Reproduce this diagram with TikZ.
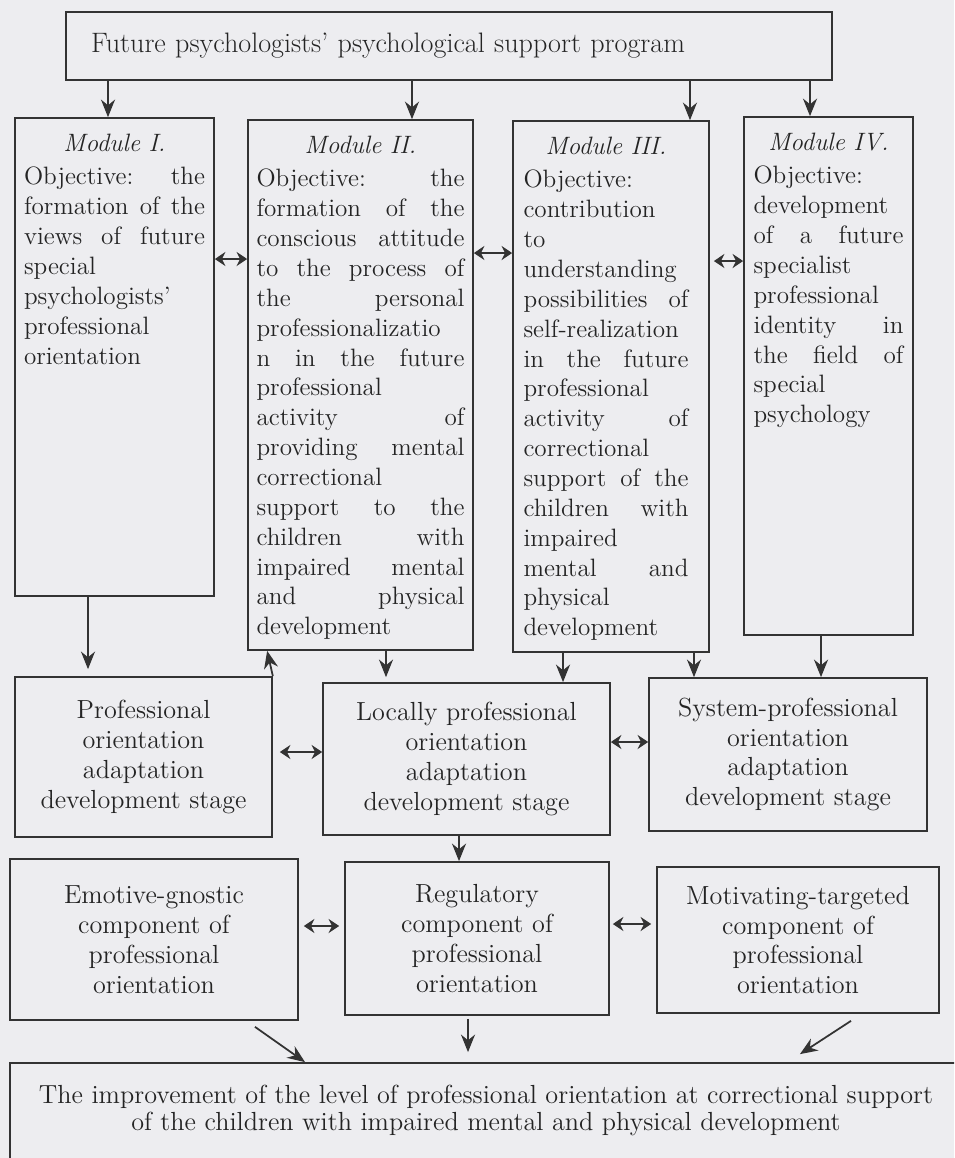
\documentclass[tikz,border=0pt]{standalone}
\usetikzlibrary{positioning,arrows.meta}
\definecolor{paper}{HTML}{EDEDF0}
\definecolor{ink}{HTML}{333333}
\definecolor{inktext}{HTML}{242424}
\tikzset{
  box/.style={draw=ink, line width=1pt, inner sep=0pt},
  txt/.style={text=inktext, font=\fontsize{14.3}{17}\selectfont, inner sep=0pt, align=left},
  bigtxt/.style={txt, font=\fontsize{14.9}{17}\selectfont},
  arr/.style={draw=ink, line width=1pt, -{Stealth[length=10pt,width=8pt]}},
  dbl/.style={draw=ink, line width=1.5pt, {Stealth[length=6pt,width=8pt]}-{Stealth[length=6pt,width=8pt]}}
}
\begin{document}
\begin{tikzpicture}[x=0.02cm, y=-0.02cm]
  \useasboundingbox (0,0) rectangle (954,1158);
  \clip (0,0) rectangle (954,1158);
  \fill[paper] (0,0) rectangle (954,1158);

  % program
  \node[box, text=inktext, font=\fontsize{16}{18}\selectfont, align=left, minimum width=15.32cm, minimum height=1.36cm, text width=14.32cm, inner xsep=0.5cm] (prog) at (449,46)
    {Future psychologists' psychological support program};

  % modules
  \node[box, minimum width=3.98cm, minimum height=9.56cm] (m1) at (114.5,357) {};
  \node[box, minimum width=4.5cm, minimum height=10.6cm] (m2) at (360.5,385) {};
  \node[box, minimum width=3.92cm, minimum height=10.62cm] (m3) at (611,386.5) {};
  \node[box, minimum width=3.38cm, minimum height=10.36cm] (m4) at (828.5,376) {};

  \node[txt, text width=3.62cm, below=0.33cm of m1.north] (t1)
    {\hfill\textit{Module I.}\hfill\null\\[2pt]
     Objective:\hfill the\\
     formation\hfill of\hfill the\\
     views\hfill of\hfill future\\
     special\\
     psychologists'\\
     professional\\
     orientation};
  \node[txt, text width=4.16cm, below=0.33cm of m2.north] (t2)
    {\hfill\textit{Module II.}\hfill\null\\[2pt]
     Objective:\hfill the\\
     formation\hfill of\hfill the\\
     conscious\hfill attitude\\
     to\hfill the\hfill process\hfill of\\
     the\hfill personal\\
     professionalizatio\\
     n\hfill in\hfill the\hfill future\\
     professional\\
     activity\hfill of\\
     providing\hfill mental\\
     correctional\\
     support\hfill to\hfill the\\
     children\hfill with\\
     impaired\hfill mental\\
     and\hfill physical\\
     development};
  \node[txt, text width=3.3cm, below=0.33cm of m3.north, xshift=-0.1cm] (t3)
    {\hfill\textit{Module III.}\hfill\null\\[2pt]
     Objective:\\
     contribution\\
     to\\
     understanding\\
     possibilities\hfill of\\
     self-realization\\
     in\hfill the\hfill future\\
     professional\\
     activity\hfill of\\
     correctional\\
     support\hfill of\hfill the\\
     children\hfill with\\
     impaired\\
     mental\hfill and\\
     physical\\
     development};
  \node[txt, text width=3.0cm, below=0.33cm of m4.north] (t4)
    {\hfill\textit{Module IV.}\hfill\null\\[2pt]
     Objective:\\
     development\\
     of\hfill a\hfill future\\
     specialist\\
     professional\\
     identity\hfill in\\
     the\hfill field\hfill of\\
     special\\
     psychology};

  % stages
  \node[box, bigtxt, align=center, minimum width=5.14cm, minimum height=3.2cm] (s1) at (143.5,757)
    {Professional\\ orientation\\ adaptation\\ development stage};
  \node[box, bigtxt, align=center, minimum width=5.74cm, minimum height=3.04cm] (s2) at (466.5,759)
    {Locally professional\\ orientation\\ adaptation\\ development stage};
  \node[box, bigtxt, align=center, minimum width=5.56cm, minimum height=3.06cm] (s3) at (788,754.5)
    {System-professional\\ orientation\\ adaptation\\ development stage};

  % components
  \node[box, bigtxt, align=center, minimum width=5.76cm, minimum height=3.22cm] (c1) at (154,939.5)
    {Emotive-gnostic\\ component of\\ professional\\ orientation};
  \node[box, bigtxt, align=center, minimum width=5.28cm, minimum height=3.06cm] (c2) at (477,938.5)
    {Regulatory\\ component of\\ professional\\ orientation};
  \node[box, bigtxt, align=center, minimum width=5.64cm, minimum height=2.92cm] (c3) at (798,940)
    {Motivating-targeted\\ component of\\ professional\\ orientation};

  % result
  \node[box, minimum width=19.3cm, minimum height=2.24cm] (res) at (492.5,1119) {};
  \node[txt, align=center, font=\fontsize{14.9}{15.5}\selectfont, below=0.45cm of res.north, xshift=-0.13cm] (tr)
    {The improvement of the level of professional orientation at correctional support\\
     of the children with impaired mental and physical development};

  % arrows from the program
  \coordinate (a1) at ([xshift=-0.13cm]m1.north);
  \coordinate (a2) at ([xshift=1.03cm]m2.north);
  \coordinate (a3) at ([xshift=1.58cm]m3.north);
  \coordinate (a4) at ([xshift=-0.37cm]m4.north);
  \foreach \a in {a1,a2,a3,a4}
    \draw[arr] (prog.south -| \a) -- (\a);

  % modules to stages
  \coordinate (b1) at ([xshift=-0.53cm]m1.south);
  \coordinate (b2) at ([xshift=0.51cm]m2.south);
  \coordinate (b3) at ([xshift=-0.96cm]m3.south);
  \coordinate (b4) at ([xshift=1.66cm]m3.south);
  \coordinate (b5) at ([xshift=-0.15cm]m4.south);
  \draw[arr, shorten >=0.14cm] (b1) -- (b1 |- s1.north);
  \draw[arr, shorten >=0.1cm] (b2) -- (b2 |- s2.north);
  \draw[arr] (b3) -- (b3 |- s2.north);
  \draw[arr] (b4) -- (b4 |- s3.north);
  \draw[arr] (b5) -- (b5 |- s3.north);
  \coordinate (sw) at ([xshift=0.4cm]m2.south west);
  \draw[arr] (s1.north east) -- (sw);

  % links between modules
  \coordinate (r1) at ([yshift=1.96cm]m1.east);
  \coordinate (r2) at ([yshift=2.64cm]m2.east);
  \coordinate (r3) at ([yshift=2.51cm]m3.east);
  \draw[dbl] (r1) -- (r1 -| m2.west);
  \draw[dbl] (r2) -- (r2 -| m3.west);
  \draw[dbl, shorten <=0.08cm] (r3) -- (r3 -| m4.west);

  % links between stages
  \coordinate (q1) at ([yshift=0.1cm]s1.east);
  \coordinate (q2) at ([yshift=0.34cm]s2.east);
  \draw[dbl, shorten <=0.14cm] (q1) -- (q1 -| s2.west);
  \draw[dbl] (q2) -- (q2 -| s3.west);

  % stage to components
  \coordinate (d1) at ([xshift=-0.15cm]s2.south);
  \draw[arr] (d1) -- (d1 |- c2.north);

  % links between components
  \coordinate (p1) at ([yshift=0.27cm]c1.east);
  \coordinate (p2) at ([yshift=0.29cm]c2.east);
  \draw[dbl, shorten <=0.1cm, shorten >=0.1cm] (p1) -- (p1 -| c2.west);
  \draw[dbl, shorten <=0.06cm, shorten >=0.1cm] (p2) -- (p2 -| c3.west);

  % components to result
  \coordinate (e1) at ([xshift=2.02cm, yshift=-0.12cm]c1.south);
  \coordinate (f1) at ([xshift=-3.75cm]res.north);
  \coordinate (e2) at ([xshift=-0.18cm, yshift=-0.06cm]c2.south);
  \coordinate (e3) at ([xshift=1.06cm, yshift=-0.14cm]c3.south);
  \coordinate (f3) at ([xshift=6.15cm, yshift=0.16cm]res.north);
  \draw[arr] (e1) -- (f1);
  \draw[arr, shorten >=0.2cm] (e2) -- (e2 |- res.north);
  \draw[arr] (e3) -- (f3);
\end{tikzpicture}
\end{document}
